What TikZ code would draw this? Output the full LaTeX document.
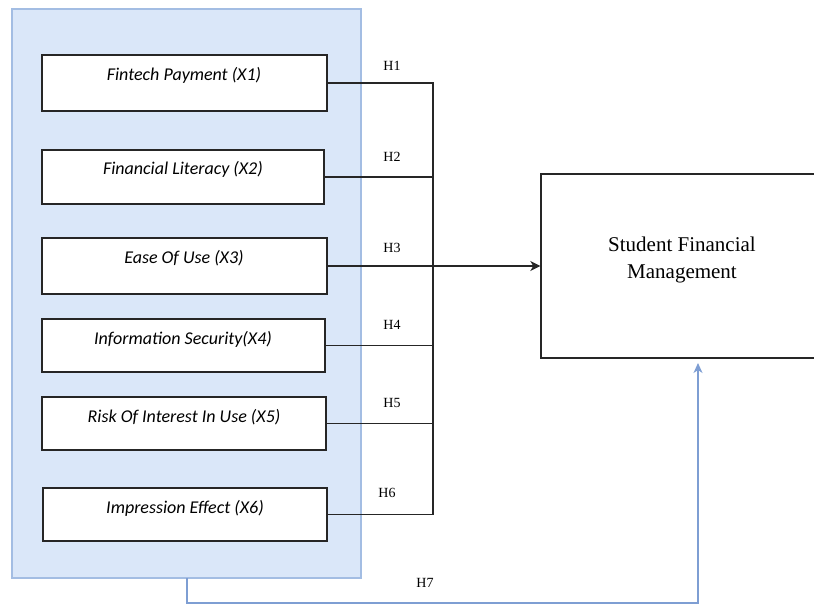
\documentclass[tikz,border=0pt]{standalone}
\usepackage{fontspec}
\setmainfont{Liberation Serif}
\newfontfamily\boxfont{Carlito}
\usetikzlibrary{arrows.meta}
\definecolor{panelfill}{HTML}{DAE7F9}
\definecolor{panelline}{HTML}{A3BDE3}
\definecolor{hseven}{HTML}{7E9ED3}
\begin{document}
\begin{tikzpicture}[x=1pt,y=-1pt,
  varbox/.style={draw=black!85, line width=1.4pt, fill=white, inner sep=0pt},
  vartext/.style={font=\boxfont\itshape\fontsize{18}{20}\selectfont, inner sep=0pt, anchor=center},
  hlab/.style={font=\fontsize{14}{16}\selectfont, inner sep=0pt},
  conn/.style={draw=black!85, line width=1.1pt},
  bluearrow/.style={draw=hseven, line width=1.1pt}]
\useasboundingbox (0,0) rectangle (814,608);
\clip (0,0) rectangle (814,608);
% panel
\node[draw=panelline, line width=1.2pt, fill=panelfill, inner sep=0pt, minimum width=349pt, minimum height=569pt] (panel) at (186.5,293.5) {};
% boxes
\node[varbox, minimum width=285pt, minimum height=56pt] (b1) at (184.5,83) {};
\node[varbox, minimum width=282pt, minimum height=54pt] (b2) at (183,177) {};
\node[varbox, minimum width=285pt, minimum height=56pt] (b3) at (184.5,266) {};
\node[varbox, minimum width=283pt, minimum height=53pt] (b4) at (183.5,345.5) {};
\node[varbox, minimum width=284pt, minimum height=53pt] (b5) at (184,423.5) {};
\node[varbox, minimum width=284pt, minimum height=53pt] (b6) at (185,514.5) {};
\node[vartext] (t1) at (184,75) {Fintech Payment (X1)};
\node[vartext] (t2) at (183,169) {Financial Literacy (X2)};
\node[vartext] (t3) at (184,258) {Ease Of Use (X3)};
\node[vartext] (t4) at (183,339) {Information Security(X4)};
\node[vartext] (t5) at (184,417) {Risk Of Interest In Use (X5)};
\node[vartext] (t6) at (185,508) {Impression Effect (X6)};
% target
\node[draw=black!85, line width=1.4pt, fill=white, inner sep=0pt, minimum width=290pt, minimum height=184pt] (sfm) at (686,266) {};
\node[align=center, font=\fontsize{21}{27}\selectfont, inner sep=0pt] (sfmt) at (682,259.5) {Student Financial\\Management};
% trunk
\coordinate (trunk) at (433,266);
\draw[conn] (b1.east) -| (trunk);
\draw[conn] (b2.east) -| (trunk);
\draw[conn] (b4.east) -| (trunk);
\draw[conn] (b5.east) -| (trunk);
\draw[conn] (b6.east) -| (trunk);
\draw[conn, -{Stealth[length=10pt,width=10pt,inset=3pt]}] (b3.east) -- (sfm.west);
% labels
\node[hlab] (h1) at (392,66) {H1};
\node[hlab] (h2) at (392,157) {H2};
\node[hlab] (h3) at (392,248) {H3};
\node[hlab] (h4) at (392,325) {H4};
\node[hlab] (h5) at (392,403) {H5};
\node[hlab] (h6) at (387,493) {H6};
\node[hlab] (h7) at (425,583) {H7};
% H7 arrow
\coordinate (h7a) at (187,578);
\coordinate (h7y) at (0,603);
\coordinate (h7b) at (698,363);
\draw[bluearrow, -{Stealth[length=10pt,width=9pt,inset=3pt]}] (h7a) -- (h7a |- h7y) -| (h7b);
\end{tikzpicture}
\end{document}
